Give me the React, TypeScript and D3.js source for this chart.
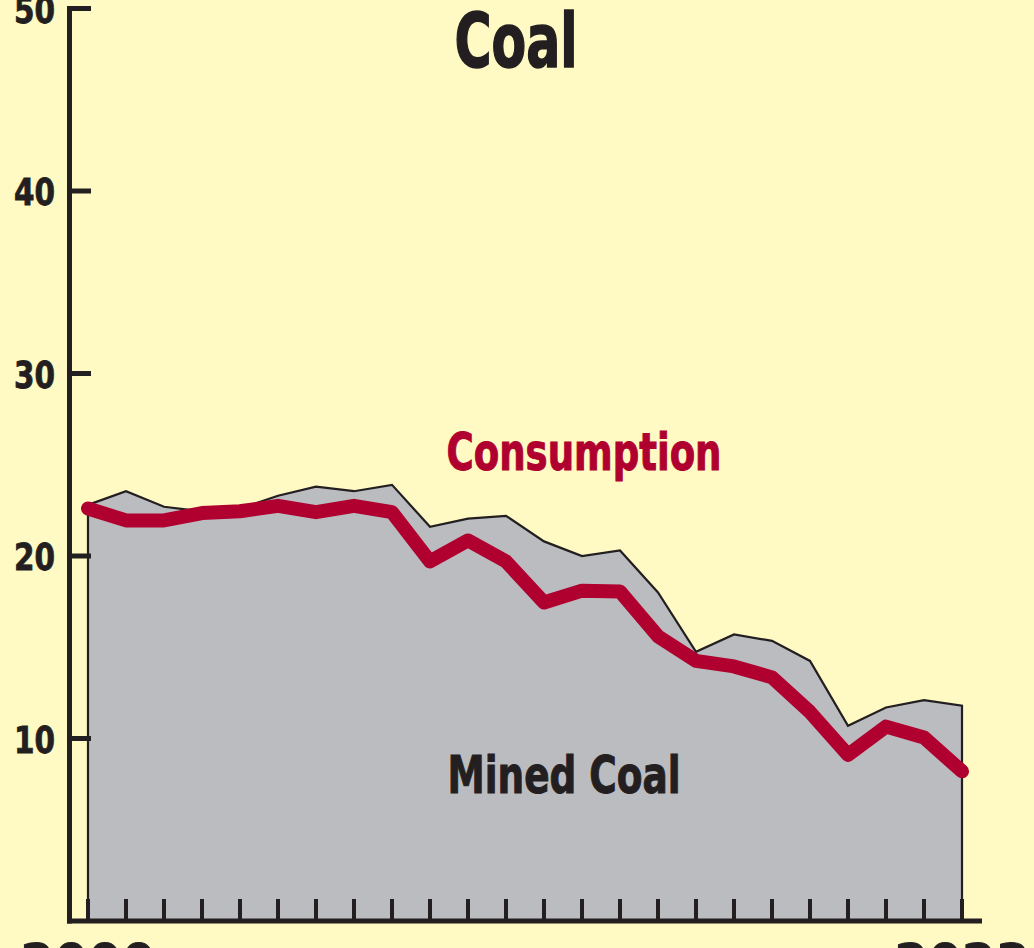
import * as d3 from "d3";

const years = d3.range(2000, 2024);
const minedCoal = [
  22.8, 23.55, 22.7, 22.45, 22.6, 23.3, 23.8, 23.55, 23.9, 21.6, 22.05, 22.2,
  20.8, 20.0, 20.3, 18.0, 14.75, 15.7, 15.35, 14.25, 10.7, 11.7, 12.1, 11.8,
];
const consumption = [
  22.6, 21.95, 21.95, 22.35, 22.45, 22.75, 22.4, 22.75, 22.4, 19.7, 20.85, 19.7,
  17.45, 18.1, 18.05, 15.6, 14.25, 13.95, 13.35, 11.45, 9.1, 10.65, 10.05, 8.2,
];
const yTicks = [10, 20, 30, 40, 50];
const xLabels = [2000, 2023];

const W = 1034;
const H = 948;
const dark = "#231f20";
const red = "#b0002f";
const font = "'Liberation Sans Narrow', 'DejaVu Sans Condensed', Arial, sans-serif";

export default function App() {
  const x = d3.scaleLinear().domain([2000, 2023]).range([88, 962]);
  const y = d3.scaleLinear().domain([0, 50]).range([921, 8.5]);

  const area = d3
    .area<number>()
    .x((_, i) => x(years[i]))
    .y0(y(0))
    .y1((d) => y(d));

  const line = d3
    .line<number>()
    .x((_, i) => x(years[i]))
    .y((d) => y(d));

  // bold condensed labels, thickened a little with a stroke
  const heavy = (c: string, w = 1) => ({ fill: c, stroke: c, strokeWidth: w, fontFamily: font, fontWeight: "bold" as const });

  return (
    <div style={{ position: "fixed", left: 0, top: 0 }}>
      <svg width={W} height={H} style={{ display: "block", background: "#fff9c4" }}>
        <path d={area(minedCoal) ?? ""} fill="#bbbcc0" stroke={dark} strokeWidth={2.2} />

        {/* x ticks */}
        {years.map((yr) => (
          <line key={yr} x1={x(yr)} x2={x(yr)} y1={y(0)} y2={y(0) - 22} stroke={dark} strokeWidth={4} />
        ))}

        <path
          d={line(consumption) ?? ""}
          fill="none"
          stroke={red}
          strokeWidth={14}
          strokeLinejoin="round"
          strokeLinecap="round"
        />

        {/* axes */}
        <line x1={69.5} x2={69.5} y1={y(50) - 2.5} y2={y(0) + 2.5} stroke={dark} strokeWidth={5} />
        <line x1={67} x2={982} y1={y(0)} y2={y(0)} stroke={dark} strokeWidth={5} />
        {yTicks.map((t) => (
          <g key={t}>
            <line x1={69.5} x2={91} y1={y(t)} y2={y(t)} stroke={dark} strokeWidth={5} />
            <text
              x={55}
              y={y(t) + 14}
              textAnchor="end"
              fontSize={38}
              textLength={41}
              lengthAdjust="spacingAndGlyphs"
              {...heavy(dark, 0.8)}
            >
              {t}
            </text>
          </g>
        ))}
        {xLabels.map((yr) => (
          <text key={yr} x={x(yr)} y={982} textAnchor="middle" fontSize={54} {...heavy(dark, 1)}>
            {yr}
          </text>
        ))}

        <text
          x={516}
          y={67}
          textAnchor="middle"
          fontSize={75}
          textLength={123}
          lengthAdjust="spacingAndGlyphs"
          {...heavy(dark, 1.5)}
        >
          Coal
        </text>
        <text
          x={584}
          y={470}
          textAnchor="middle"
          fontSize={52}
          textLength={275}
          lengthAdjust="spacingAndGlyphs"
          {...heavy(red, 1)}
        >
          Consumption
        </text>
        <text
          x={564}
          y={793}
          textAnchor="middle"
          fontSize={52}
          textLength={233}
          lengthAdjust="spacingAndGlyphs"
          {...heavy(dark, 1)}
        >
          Mined Coal
        </text>
      </svg>
    </div>
  );
}
